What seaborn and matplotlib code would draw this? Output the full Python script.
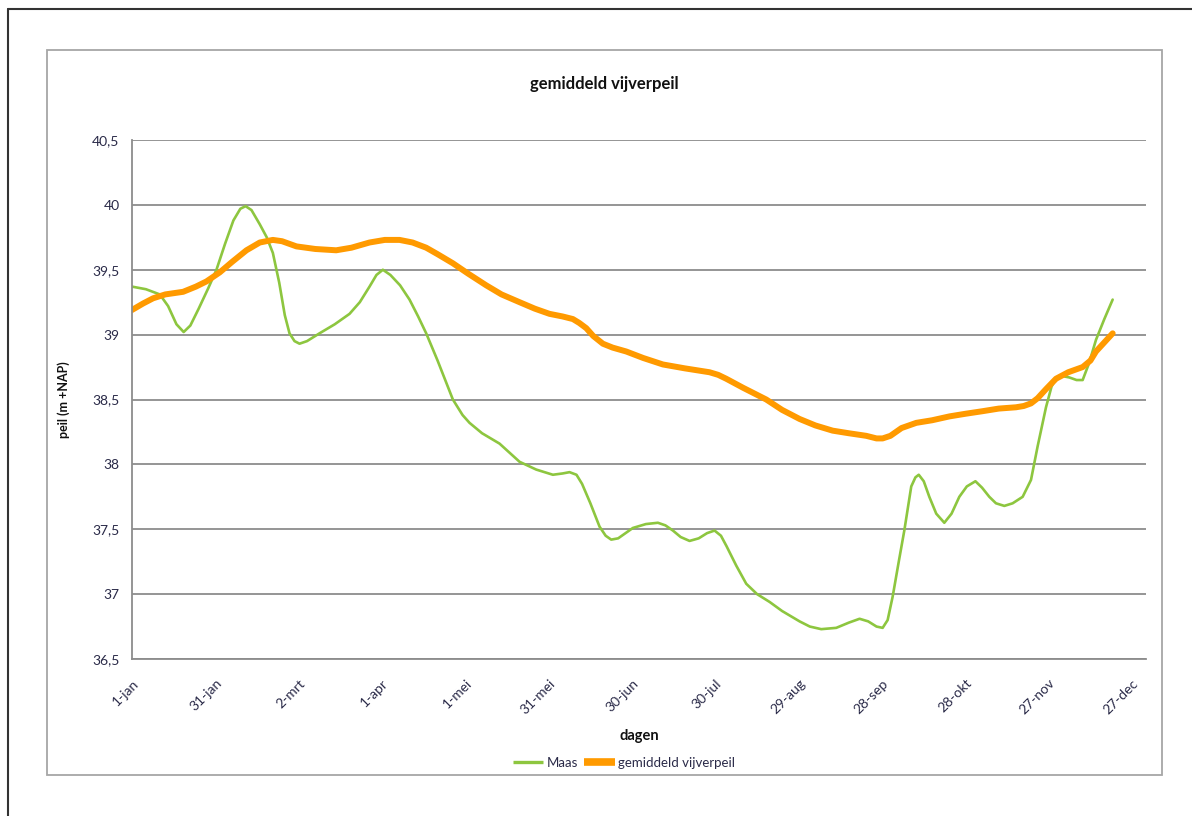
import pandas as pd
import matplotlib.pyplot as plt
import seaborn as sns
from matplotlib.patches import Rectangle
from matplotlib.lines import Line2D

# Values (day of year, level in m +NAP)
maas_days = [0, 5, 10, 13, 16, 18.6, 21, 24, 27.5, 30.4, 33.5, 36.5, 39, 40.9, 43, 46, 48.5,
             50.7, 53, 55, 56.7, 58.5, 60.3, 63, 67.5, 73, 78.3, 82, 85.5, 88, 90.3, 93, 96.5,
             99.9, 103, 105.9, 110, 115.5, 119, 121.5, 126, 132.3, 139.5, 145.5, 151.5, 155,
             157.5, 160, 162, 165, 168.3, 170.5, 172.5, 175, 180.3, 185, 189.3, 192, 194.7,
             197.5, 200.7, 204, 207, 209.7, 212, 214, 217.5, 221.1, 225, 229.5, 234, 240.3,
             244, 248.1, 253.5, 258, 261.9, 265, 268, 270.2, 272, 273.8, 276, 278, 280.5, 282,
             283.2, 285, 287, 289.5, 292.4, 295, 297.8, 300.5, 303.6, 306, 308.6, 311, 314,
             317, 320.6, 323.6, 326, 329, 331, 332.6, 335, 337.4, 340, 342.2, 344.5, 347,
             350, 353]
maas_level = [39.37, 39.35, 39.31, 39.22, 39.08, 39.02, 39.07, 39.2, 39.36, 39.5, 39.7, 39.88,
              39.97, 39.99, 39.96, 39.85, 39.75, 39.63, 39.4, 39.15, 39.01, 38.95, 38.93,
              38.95, 39.01, 39.08, 39.16, 39.25, 39.37, 39.46, 39.5, 39.46, 39.38, 39.27,
              39.14, 39.01, 38.8, 38.5, 38.38, 38.32, 38.24, 38.16, 38.02, 37.96, 37.92,
              37.93, 37.94, 37.92, 37.85, 37.7, 37.52, 37.45, 37.42, 37.43, 37.51, 37.54,
              37.55, 37.53, 37.49, 37.44, 37.41, 37.43, 37.47, 37.49, 37.45, 37.37, 37.22,
              37.08, 37.0, 36.94, 36.87, 36.79, 36.75, 36.73, 36.74, 36.78, 36.81, 36.79,
              36.75, 36.74, 36.8, 36.98, 37.25, 37.49, 37.83, 37.9, 37.92, 37.87, 37.75,
              37.62, 37.55, 37.62, 37.75, 37.83, 37.87, 37.82, 37.75, 37.7, 37.68, 37.7,
              37.75, 37.88, 38.14, 38.44, 38.6, 38.66, 38.68, 38.67, 38.65, 38.65, 38.78,
              38.96, 39.12, 39.27]

vijver_days = [0, 4, 7.6, 12, 18.4, 23, 26.8, 31.6, 36, 41.2, 46, 50.7, 54, 59.2, 66, 73.5,
               79, 85.5, 91, 96.3, 101, 105.9, 110, 115.5, 121, 127.5, 133, 139.5, 145, 150.3,
               155, 158.7, 161, 163.5, 166, 169.5, 173, 177.9, 184, 191.1, 199, 207.9, 211,
               213.9, 220, 228.3, 234, 240.3, 246, 252.2, 258, 264.3, 268, 270.2, 273, 277,
               282.3, 288, 294.3, 300, 306.2, 312, 318.2, 321, 323.6, 326, 329, 332.6, 337,
               342.2, 345, 347, 350, 353]
vijver_level = [39.19, 39.24, 39.28, 39.31, 39.33, 39.37, 39.41, 39.48, 39.56, 39.65, 39.71,
                39.73, 39.72, 39.68, 39.66, 39.65, 39.67, 39.71, 39.73, 39.73, 39.71, 39.67,
                39.62, 39.55, 39.47, 39.38, 39.31, 39.25, 39.2, 39.16, 39.14, 39.12, 39.09,
                39.05, 38.99, 38.93, 38.9, 38.87, 38.82, 38.77, 38.74, 38.71, 38.69, 38.66,
                38.59, 38.5, 38.42, 38.35, 38.3, 38.26, 38.24, 38.22, 38.2, 38.2, 38.22, 38.28,
                38.32, 38.34, 38.37, 38.39, 38.41, 38.43, 38.44, 38.45, 38.47, 38.51, 38.58,
                38.66, 38.71, 38.75, 38.8, 38.87, 38.94, 39.01]

tick_days = [0, 30, 60, 90, 120, 150, 180, 210, 240, 270, 300, 330, 360]
tick_labels = ['1-jan', '31-jan', '2-mrt', '1-apr', '1-mei', '31-mei', '30-jun',
               '30-jul', '29-aug', '28-sep', '28-okt', '27-nov', '27-dec']
y_ticks = [36.5, 37, 37.5, 38, 38.5, 39, 39.5, 40, 40.5]

green = '#8DC63F'
orange = '#FF9A00'
grid_col = '#8C8C8C'
text_col = '#2A2A48'

sns.set_style("white")
plt.rcParams['font.family'] = ['Lato', 'DejaVu Sans']

fig = plt.figure(figsize=(11.92, 8.16), dpi=100)
ax = fig.add_axes([132 / 1192, 1 - 659 / 816, (1146 - 132) / 1192, (659 - 140) / 816])

maas = pd.DataFrame({'dag': maas_days, 'peil': maas_level})
vijver = pd.DataFrame({'dag': vijver_days, 'peil': vijver_level})
sns.lineplot(data=maas, x='dag', y='peil', ax=ax, color=green, linewidth=1.9, sort=False,
             solid_joinstyle='round')
sns.lineplot(data=vijver, x='dag', y='peil', ax=ax, color=orange, linewidth=4.3,
             sort=False, solid_capstyle='round', solid_joinstyle='round')

ax.set_xlim(0, 365)
ax.set_ylim(36.5, 40.5)
ax.set_yticks(y_ticks)
ax.set_yticklabels([f"{v:g}".replace('.', ',') for v in y_ticks], fontsize=10)
ax.set_xticks(tick_days)
ax.set_xticklabels(tick_labels, rotation=45, ha='right', rotation_mode='anchor', fontsize=10)
ax.yaxis.grid(True, color=grid_col, linewidth=1.3)
ax.set_axisbelow(True)
for side in ['top', 'right']:
    ax.spines[side].set_visible(False)
for side in ['left', 'bottom']:
    ax.spines[side].set_color(grid_col)
    ax.spines[side].set_linewidth(1.3)
ax.tick_params(axis='both', length=4, width=1.2, color=grid_col, labelcolor=text_col)
ax.tick_params(axis='x', pad=9)
ax.tick_params(axis='y', pad=5)

ax.set_xlabel('dagen', fontsize=10.5, fontweight='bold', labelpad=9, color='#111111')
ax.set_ylabel('peil (m +NAP)', fontsize=9, fontweight='bold', labelpad=16, color='#111111')
fig.text(604 / 1192, 1 - 84 / 816, 'gemiddeld vijverpeil', ha='center', va='center',
         fontsize=12, fontweight='bold', color='#111111')

handles = [Line2D([], [], color=green, linewidth=2.4, solid_capstyle='butt'),
           Line2D([], [], color=orange, linewidth=5.5, solid_capstyle='butt')]
leg = fig.legend(handles, ['Maas', 'gemiddeld vijverpeil'], loc='center', ncol=2,
                 bbox_to_anchor=(624 / 1192, 1 - 763 / 816), frameon=False, fontsize=9.5,
                 handlelength=2.3, columnspacing=0.5, handletextpad=0.25)
for t in leg.get_texts():
    t.set_color(text_col)

# chart area border and page frame
fig.patches.append(Rectangle((47 / 1192, 1 - 775 / 816), (1162 - 47) / 1192, (775 - 50) / 816,
                             transform=fig.transFigure, fill=False, edgecolor='#A6A6A6',
                             linewidth=1.3))
fig.lines.append(Line2D([8 / 1192, 8 / 1192], [0, 1 - 9 / 816], transform=fig.transFigure,
                        color='#333333', linewidth=1.5))
fig.lines.append(Line2D([8 / 1192, 1], [1 - 9 / 816, 1 - 9 / 816], transform=fig.transFigure,
                        color='#333333', linewidth=1.5))

plt.savefig('out.png', dpi=100)
